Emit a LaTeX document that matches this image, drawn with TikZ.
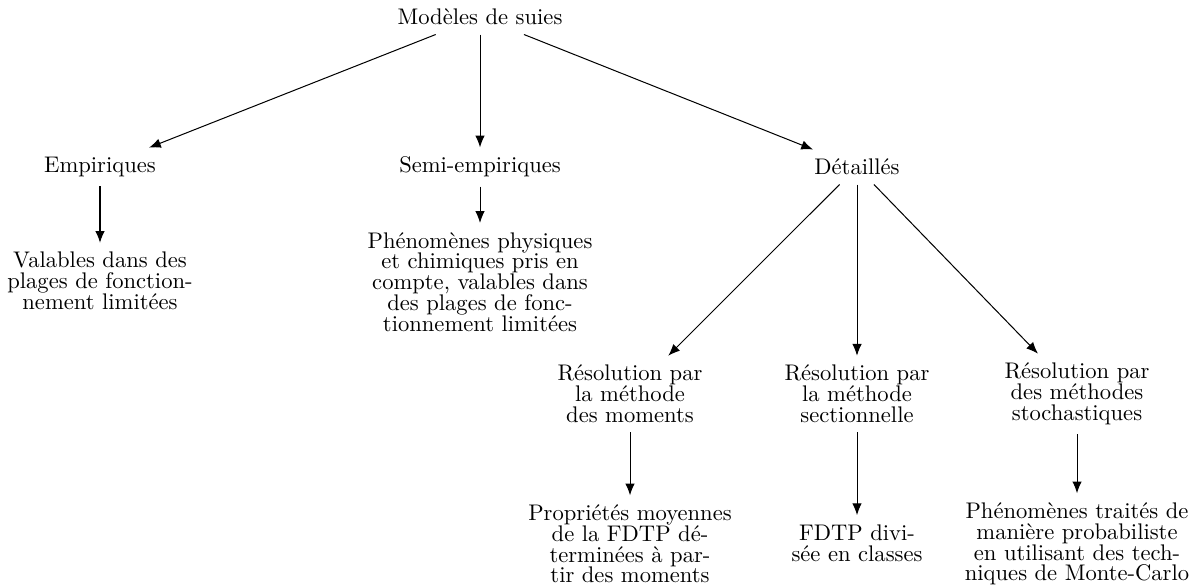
\documentclass[tikz,border=0pt]{standalone}
\usetikzlibrary{arrows.meta}
\begin{document}
\begin{tikzpicture}[x=0.4425pt,y=-0.4425pt,
  every node/.style={font=\fontsize{10}{9.2}\selectfont, align=center, inner sep=4pt},
  arr/.style={-{Latex[length=5.2pt,width=4.2pt]}, line width=0.45pt}]
\useasboundingbox (0,0) rectangle (1203,587);
\node (root) at (480,17) {Modèles de suies};
\node (emp) at (100,167) {Empiriques};
\node (semi) at (480,167) {Semi-empiriques};
\node (det) at (857,167) {Détaillés};
\node (val) at (100,281) {Valables dans des\\plages de fonction-\\nement limitées};
\node (phen) at (480,282) {Phénomènes physiques\\et chimiques pris en\\compte, valables dans\\des plages de fonc-\\tionnement limitées};
\node (mom) at (630,394) {Résolution par\\la méthode\\des moments};
\node (sec) at (857,394) {Résolution par\\la méthode\\sectionnelle};
\node (sto) at (1077,394) {Résolution par\\des méthodes\\stochastiques};
\node (prop) at (630,544) {Propriétés moyennes\\de la FDTP dé-\\terminées à par-\\tir des moments};
\node (fdtp) at (857,543) {FDTP divi-\\sée en classes};
\node (monte) at (1077,544) {Phénomènes traités de\\manière probabiliste\\en utilisant des tech-\\niques de Monte-Carlo};
\draw[arr] (root) -- (emp);
\draw[arr] (root) -- (semi);
\draw[arr] (root) -- (det);
\draw[arr] (emp) -- (val);
\draw[arr] (semi) -- (phen);
\draw[arr] (det) -- (mom);
\draw[arr] (det) -- (sec);
\draw[arr] (det) -- (sto);
\draw[arr] (mom) -- (prop);
\draw[arr] (sec) -- (fdtp);
\draw[arr] (sto) -- (monte);
\end{tikzpicture}
\end{document}
